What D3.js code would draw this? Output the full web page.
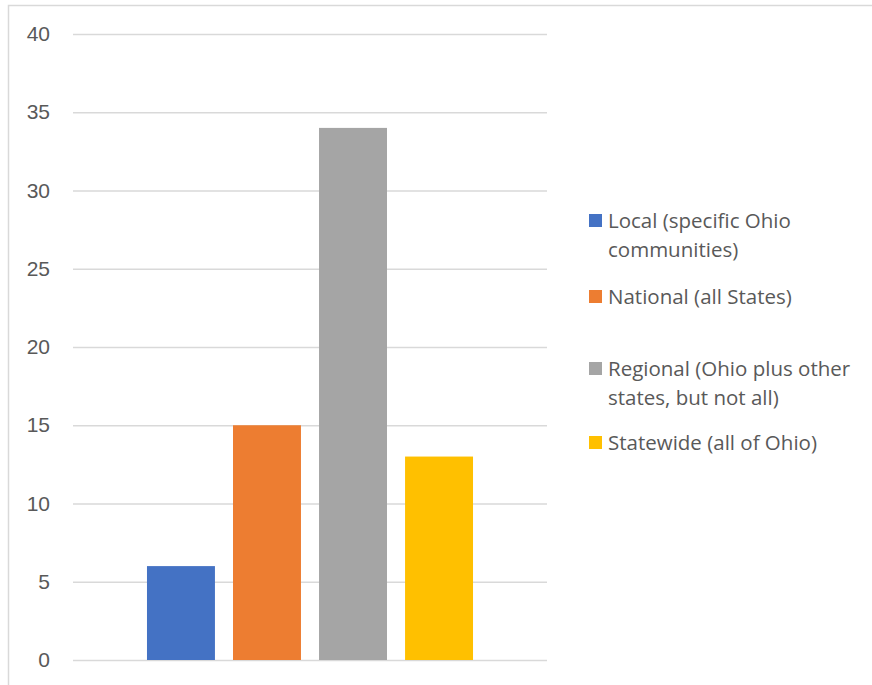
<!DOCTYPE html>
<html>
<head>
<meta charset="utf-8">
<script src="https://cdn.jsdelivr.net/npm/d3@7"></script>
<style>
  body { margin: 0; background: #fff; }
  svg { display: block; font-family: "Open Sans", "Noto Sans", sans-serif; }
</style>
</head>
<body>
<div id="chart"></div>
<script>
const seriesNames = ["Local (specific Ohio communities)", "National (all States)", "Regional (Ohio plus other states, but not all)", "Statewide (all of Ohio)"];
const seriesValues = [6, 15, 34, 13];
const seriesColors = ["#4472c4", "#ed7d31", "#a5a5a5", "#ffc000"];
const yTicks = [0, 5, 10, 15, 20, 25, 30, 35, 40];
// legend lines (wrapped like the original)
const legendLines = [["Local (specific Ohio", "communities)"], ["National (all States)"], ["Regional (Ohio plus other", "states, but not all)"], ["Statewide (all of Ohio)"]];

const width = 872, height = 685;
const plotLeft = 73, plotRight = 547, plotTop = 34, plotBottom = 660;

const svg = d3.select("#chart").append("svg")
    .attr("width", width)
    .attr("height", height);

// chart border
svg.append("rect")
    .attr("x", 8.5).attr("y", 5.5)
    .attr("width", 900).attr("height", 900)
    .attr("fill", "none")
    .attr("stroke", "#d9d9d9")
    .attr("stroke-width", 1.5);

const y = d3.scaleLinear().domain([0, 40]).range([plotBottom, plotTop]);

const x = d3.scaleBand()
    .domain(seriesNames)
    .range([plotLeft, plotRight])
    .paddingInner(0.21)
    .paddingOuter(0.86);

// y grid + labels
const yAxis = d3.axisLeft(y)
    .tickValues(yTicks)
    .tickSize(-(plotRight - plotLeft))
    .tickPadding(23);

const ya = svg.append("g")
    .attr("transform", "translate(" + plotLeft + ",0)")
    .call(yAxis);
ya.select(".domain").remove();
ya.selectAll(".tick line").attr("stroke", "#d9d9d9").attr("stroke-width", 1.5);
ya.selectAll(".tick text")
    .attr("fill", "#595959")
    .style("font-size", "21px");

// bars
svg.append("g").selectAll("rect")
    .data(seriesValues)
    .enter()
    .append("rect")
    .attr("x", (d, i) => x(seriesNames[i]))
    .attr("y", d => y(d))
    .attr("width", x.bandwidth())
    .attr("height", d => y(0) - y(d))
    .attr("fill", (d, i) => seriesColors[i]);

// legend
const legendTop = [221, 297, 369, 443];
const legend = svg.append("g");
legendLines.forEach(function(lines, i) {
    legend.append("rect")
        .attr("x", 589)
        .attr("y", legendTop[i] - 7)
        .attr("width", 13)
        .attr("height", 13)
        .attr("fill", seriesColors[i]);
    lines.forEach(function(t, j) {
        legend.append("text")
            .attr("x", 608)
            .attr("y", legendTop[i] + j * 29)
            .attr("dy", "0.35em")
            .attr("fill", "#595959")
            .style("font-size", "20.5px")
            .text(t);
    });
});
</script>
</body>
</html>
